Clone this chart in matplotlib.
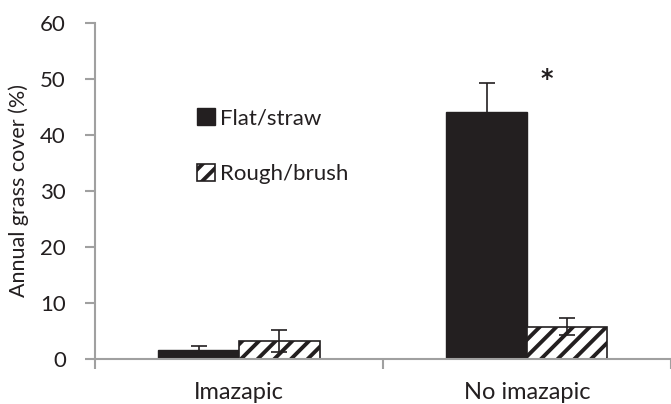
import matplotlib.pyplot as plt
import numpy as np

plt.rcParams['font.family'] = ['Lato', 'DejaVu Sans']
plt.rcParams['hatch.linewidth'] = 2.8

categories = ['Imazapic', 'No imazapic']
flat_vals = [1.6, 44.1]
flat_err = [0.7, 5.2]
rough_vals = [3.2, 5.7]
rough_err = [2.0, 1.5]
series_names = ['Flat/straw', 'Rough/brush']

fig = plt.figure(figsize=(6.71, 4.04), dpi=100)
ax = fig.add_axes([0.1416, 0.112, 0.858, 0.832])

x = np.arange(len(categories))
w = 0.28
ax.bar(x - w / 2, flat_vals, w, color='#231f20', edgecolor='#231f20', label=series_names[0], zorder=2)
ax.bar(x + w / 2, rough_vals, w, color='white', edgecolor='#231f20', hatch='//', linewidth=1.2,
       label=series_names[1], zorder=2)
ax.errorbar(x - w / 2, flat_vals, yerr=flat_err, fmt='none', ecolor='#231f20', elinewidth=1.2,
            capsize=6, capthick=1.2, zorder=3)
ax.errorbar(x + w / 2, rough_vals, yerr=rough_err, fmt='none', ecolor='#231f20', elinewidth=1.2,
            capsize=6, capthick=1.2, zorder=3)

# significance marker
ax.text(1 + 0.07, 50.0, '*', fontsize=17, ha='center', va='center', color='#231f20',
        family='DejaVu Sans', fontweight='bold')

ax.set_ylim(0, 60)
ax.set_xlim(-0.5, 1.465)
ax.set_yticks(np.arange(0, 61, 10))
ax.set_xticks(x)
ax.set_xticklabels(categories, fontsize=17, color='#231f20')
ax.set_xticks([-0.5, 0.5, 1.5], minor=True)
ax.tick_params(axis='x', which='major', length=0, pad=17)
ax.tick_params(axis='x', which='minor', length=7, width=1.5, color='#a0a0a0', direction='out')
ax.tick_params(axis='y', length=7, width=1.5, color='#a0a0a0', labelsize=16, labelcolor='#231f20', pad=14)
ax.set_ylabel('Annual grass cover (%)', fontsize=15.5, color='#231f20', labelpad=8)

for s in ['top', 'right']:
    ax.spines[s].set_visible(False)
for s in ['left', 'bottom']:
    ax.spines[s].set_color('#a0a0a0')
    ax.spines[s].set_linewidth(1.5)

ax.legend(loc='upper left', bbox_to_anchor=(0.142, 0.806), frameon=False, fontsize=16,
          handlelength=0.8, handleheight=0.8, handletextpad=0.25, labelspacing=1.6,
          labelcolor='#231f20')

fig.savefig('out.png', dpi=100)
